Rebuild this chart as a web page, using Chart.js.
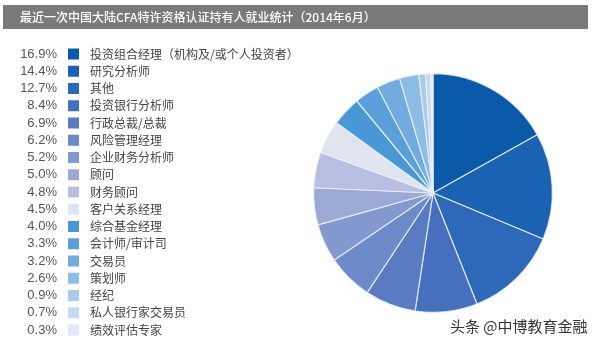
<!DOCTYPE html>
<html>
<head>
<meta charset="utf-8">
<script src="https://cdn.jsdelivr.net/npm/chart.js@4"></script>
<style>
  html, body { margin: 0; padding: 0; background: #ffffff; }
  #wrap { position: relative; width: 600px; height: 347px; }
</style>
</head>
<body>
<div id="wrap"><canvas id="c" width="600" height="347"></canvas></div>
<script>
// Employment breakdown of CFA charterholders in mainland China (June 2014)
const titleText = '最近一次中国大陆CFA特许资格认证持有人就业统计（2014年6月）';
const sourceText = '头条 @中博教育金融';

const categories = [
  '投资组合经理（机构及/或个人投资者）',
  '研究分析师',
  '其他',
  '投资银行分析师',
  '行政总裁/总裁',
  '风险管理经理',
  '企业财务分析师',
  '顾问',
  '财务顾问',
  '客户关系经理',
  '综合基金经理',
  '会计师/审计司',
  '交易员',
  '策划师',
  '经纪',
  '私人银行家交易员',
  '绩效评估专家'
];

const shares = [16.9, 14.4, 12.7, 8.4, 6.9, 6.2, 5.2, 5.0, 4.8, 4.5, 4.0, 3.3, 3.2, 2.6, 0.9, 0.7, 0.3];

const palette = [
  '#0b5aa9', '#1c62b2', '#2d69b8', '#4670bd', '#587bc2', '#6c89c9',
  '#8398cf', '#9ba9d7', '#b9bfe2', '#dfe4ef', '#4a97d6', '#5a9fda',
  '#71abdf', '#8dbce5', '#a9cbea', '#c6daf1', '#e2e9f6'
];

// Header band, left-hand legend and source line drawn on the canvas
const decorPlugin = {
  id: 'decor',
  beforeDraw(chart) {
    const ctx = chart.ctx;
    ctx.save();
    ctx.fillStyle = '#7a7a7a';
    ctx.fillRect(3, 5, 585, 24);
    ctx.fillStyle = '#ffffff';
    ctx.font = '500 12px "Noto Sans CJK SC", sans-serif';
    ctx.textBaseline = 'middle';
    ctx.textAlign = 'left';
    ctx.fillText(titleText, 20, 17);
    ctx.restore();
  },
  afterDraw(chart) {
    const ctx = chart.ctx;
    const labels = chart.data.labels;
    const ds = chart.data.datasets[0];
    ctx.save();
    ctx.textBaseline = 'middle';
    const top = 54, step = 17.25;
    labels.forEach((lab, i) => {
      const y = top + i * step;
      ctx.fillStyle = '#555555';
      ctx.font = '13px "Liberation Sans", Arial, sans-serif';
      ctx.textAlign = 'right';
      ctx.fillText(ds.data[i].toFixed(1) + '%', 57, y);
      ctx.fillStyle = ds.backgroundColor[i];
      ctx.fillRect(68, y - 5.5, 11, 11);
      ctx.fillStyle = '#454545';
      ctx.font = '12px "Noto Sans CJK SC", sans-serif';
      ctx.textAlign = 'left';
      ctx.fillText(lab, 90, y);
    });
    // source line
    ctx.font = '15px "Noto Sans CJK SC", sans-serif';
    ctx.textAlign = 'left';
    ctx.lineWidth = 3;
    ctx.strokeStyle = 'rgba(255,255,255,0.9)';
    ctx.strokeText(sourceText, 450, 326);
    ctx.fillStyle = '#333333';
    ctx.fillText(sourceText, 450, 326);
    ctx.restore();
  }
};

new Chart(document.getElementById('c'), {
  type: 'pie',
  data: {
    labels: categories,
    datasets: [{
      data: shares,
      backgroundColor: palette,
      borderColor: 'rgba(235,242,252,0.85)',
      borderWidth: 1.2,
      hoverOffset: 0
    }]
  },
  options: {
    responsive: false,
    animation: false,
    devicePixelRatio: 1,
    layout: { padding: { left: 313, right: 47, top: 73, bottom: 34 } },
    plugins: {
      legend: { display: false },
      title: { display: false },
      tooltip: { enabled: false }
    }
  },
  plugins: [decorPlugin]
});
</script>
</body>
</html>
